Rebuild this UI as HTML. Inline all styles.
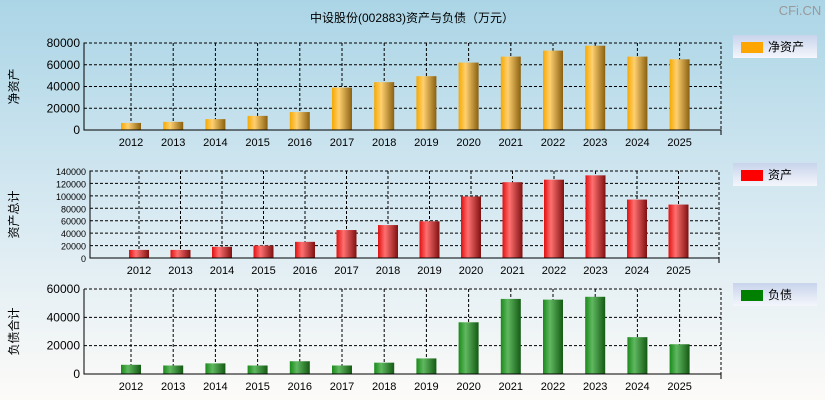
<!DOCTYPE html>
<html><head><meta charset="utf-8"><style>
body{margin:0;width:825px;height:400px;overflow:hidden;font-family:"Liberation Sans","Noto Sans CJK SC",sans-serif}
svg{display:block}
</style></head><body>
<svg id="c" width="825" height="400" xmlns="http://www.w3.org/2000/svg">
<defs>
<linearGradient id="bg" x1="0" y1="0" x2="0" y2="1"><stop offset="0" stop-color="#abd5e6"/><stop offset="0.55" stop-color="#d9eaf2"/><stop offset="1" stop-color="#fdfbf8"/></linearGradient>
<linearGradient id="gO" x1="0" x2="1"><stop offset="0" stop-color="#f5a800"/><stop offset="0.35" stop-color="#ffd070"/><stop offset="1" stop-color="#8a6010"/></linearGradient>
<linearGradient id="gR" x1="0" x2="1"><stop offset="0" stop-color="#e01010"/><stop offset="0.35" stop-color="#ff7070"/><stop offset="1" stop-color="#801010"/></linearGradient>
<linearGradient id="gG" x1="0" x2="1"><stop offset="0" stop-color="#1a8a1a"/><stop offset="0.35" stop-color="#60b860"/><stop offset="1" stop-color="#145a14"/></linearGradient>
<linearGradient id="lg" x1="0" y1="0" x2="0" y2="1"><stop offset="0" stop-color="#c8d4ec"/><stop offset="1" stop-color="#f4f6fb"/></linearGradient>
</defs>
<rect width="825" height="400" fill="url(#bg)"/>
<text x="412" y="22" font-size="12" text-anchor="middle">中设股份(002883)资产与负债（万元）</text>
<text x="800" y="15" font-size="13" fill="#999" text-anchor="middle">CFi.CN</text>
<g id="g"></g>
</svg>
<script>
const years=["2012","2013","2014","2015","2016","2017","2018","2019","2020","2021","2022","2023","2024","2025"];
const netAssets=[6500,7500,10000,13000,16500,39000,44000,49500,62000,67500,73000,77500,67500,65000];
const totalAssets=[13000,13000,18000,20000,26000,45000,53000,59000,99000,122000,126000,133000,94000,86000];
const liabilities=[6500,6000,7500,6000,9000,6000,8000,11000,36500,53000,52500,54500,26000,21000];
const ticks1=[0,20000,40000,60000,80000];
const ticks2=[0,20000,40000,60000,80000,100000,120000,140000];
const ticks3=[0,20000,40000,60000];
const NS="http://www.w3.org/2000/svg";
const G=document.getElementById('g');
function el(t,a,p){const e=document.createElementNS(NS,t);for(const k in a)e.setAttribute(k,a[k]);(p||G).appendChild(e);return e;}
function panel(o){
 const {l,r,t,b,max,ticks,vals,fill,legend,legY,ytitle,fs,first,step,key}=o;
 const g=el('g',{});
 
 
 const y=v=>b-(v/max)*(b-t);
 const x=i=>first+i*step;
 ticks.forEach(v=>{
  if(v>0){const ln=el('line',{x1:l,x2:r,y1:y(v),y2:y(v),stroke:'#000','stroke-dasharray':'3,2','stroke-width':1},g);
  }
  const tx=el('text',{x:l-4,y:y(v)+4,'font-size':fs,'text-anchor':'end'},g);tx.textContent=v;
  
 });
 years.forEach((yr,i)=>{
  const vl=el('line',{x1:x(i),x2:x(i),y1:t,y2:b,stroke:'#000','stroke-dasharray':'3,2','stroke-width':1},g);
  
  const bar=el('rect',{x:x(i)-10,y:y(vals[i]),width:20,height:b-y(vals[i]),fill:fill},g);
  
  
  const tx=el('text',{x:x(i),y:b+16,'font-size':11,'text-anchor':'middle'},g);tx.textContent=yr;
  
 });
 const fr=el('rect',{x:l,y:t,width:r-l,height:b-t,fill:'none',stroke:'#000','stroke-dasharray':'3,2'},g);
 
 const ax=el('path',{d:`M${l} ${t}V${b}H${r}V${b+5}`,stroke:'#000',fill:'none'},g);
 
 const yt=el('text',{x:0,y:0,'font-size':12,'text-anchor':'middle',transform:`translate(18,${(t+b)/2}) rotate(-90)`},g);yt.textContent=ytitle;
 
 const lgg=el('g',{},g);
 
 el('rect',{x:733,y:legY,width:84,height:23,fill:'url(#lg)'},lgg);
 el('rect',{x:741,y:legY+7,width:22,height:11,fill:o.sw},lgg);
 const lt=el('text',{x:768,y:legY+16,'font-size':12},lgg);lt.textContent=legend;
}
panel({key:'net-assets',l:84,r:721,t:43,b:130,max:80000,ticks:ticks1,vals:netAssets,fill:'url(#gO)',sw:'#ffa500',legend:'净资产',legY:35,ytitle:'净资产',fs:12,first:131,step:42.2});
panel({key:'total-assets',l:90,r:719,t:171,b:258,max:140000,ticks:ticks2,vals:totalAssets,fill:'url(#gR)',sw:'#ff0000',legend:'资产',legY:163,ytitle:'资产总计',fs:9,first:139,step:41.5});
panel({key:'liabilities',l:84,r:721,t:289,b:374,max:60000,ticks:ticks3,vals:liabilities,fill:'url(#gG)',sw:'#008000',legend:'负债',legY:283,ytitle:'负债合计',fs:12,first:131,step:42.2});
</script>
</body></html>
